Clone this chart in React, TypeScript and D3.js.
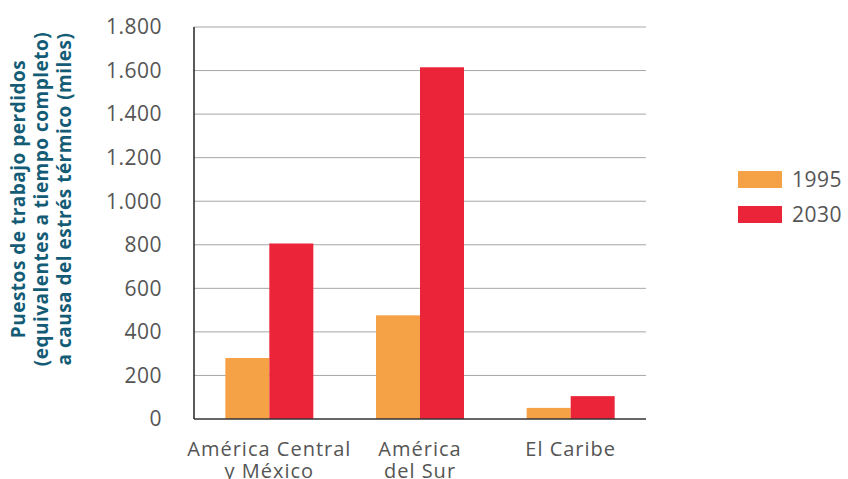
import React from "react";
import * as d3 from "d3";

const regions = [["América Central", "y México"], ["América", "del Sur"], ["El Caribe"]];
const series = ["1995", "2030"];
const values1995 = [280, 476, 51];
const values2030 = [806, 1615, 105];
const yTicks = [0, 200, 400, 600, 800, 1000, 1200, 1400, 1600, 1800];
const yTitle = [
  "Puestos de trabajo perdidos",
  "(equivalentes a tiempo completo)",
  "a causa del estrés térmico (miles)",
];

const colors = ["#F4A245", "#EC2439"];
const font = "'Open Sans', sans-serif";

const App: React.FC = () => {
  const W = 848, H = 479;
  const left = 194, right = 646, top = 27, bottom = 419;

  const keys = regions.map(r => r.join(" "));
  const x0 = d3.scaleBand().domain(keys).range([left, right]).paddingInner(0.416).paddingOuter(0.208);
  const x1 = d3.scaleBand().domain(series).range([0, x0.bandwidth()]);
  const y = d3.scaleLinear().domain([0, 1800]).range([bottom, top]);
  const fmt = (v: number) => d3.format(",")(v).replace(/,/g, ".");

  const data = keys.map((k, i) => ({ key: k, vals: [values1995[i], values2030[i]] }));

  return (
    <svg width={W} height={H} style={{ position: "absolute", left: 0, top: 0, background: "#fff" }}>
      {/* grid */}
      {yTicks.filter(t => t > 0).map(t => (
        <line key={t} x1={left} x2={right} y1={y(t)} y2={y(t)} stroke="#a6a6a6" strokeWidth={1} />
      ))}
      {/* tick labels */}
      {yTicks.map(t => (
        <text key={t} x={162} y={y(t)} dy="0.35em" textAnchor="end" fontFamily={font} fontSize={21} letterSpacing={0.5} fill="#555">
          {fmt(t)}
        </text>
      ))}
      {/* bars */}
      {data.map(d => (
        <g key={d.key} transform={`translate(${x0(d.key)},0)`}>
          {d.vals.map((v, j) => (
            <rect key={j} x={x1(series[j])} y={y(v)} width={x1.bandwidth()} height={y(0) - y(v)} fill={colors[j]} />
          ))}
        </g>
      ))}
      {/* axes */}
      <line x1={left} x2={left} y1={top} y2={bottom} stroke="#222" strokeWidth={1.5} />
      <line x1={left} x2={right} y1={bottom} y2={bottom} stroke="#333" strokeWidth={1.5} />
      {/* x labels */}
      {regions.map((r, i) => (
        <text key={i} x={x0(keys[i])! + x0.bandwidth() / 2} y={456} textAnchor="middle" fontFamily={font} fontSize={20} letterSpacing={1} fill="#555">
          {r.map((line, k) => (
            <tspan key={k} x={x0(keys[i])! + x0.bandwidth() / 2} dy={k === 0 ? 0 : 22}>{line}</tspan>
          ))}
        </text>
      ))}
      {/* y title */}
      <g transform="translate(0,199) rotate(-90)">
        {yTitle.map((t, i) => (
          <text key={i} x={0} y={25 + i * 23} textAnchor="middle" fontFamily={font} fontWeight={700} fontSize={19} letterSpacing={0.5} fill="#145c76">
            {t}
          </text>
        ))}
      </g>
      {/* legend */}
      {series.map((s, i) => (
        <g key={s} transform={`translate(738,${171 + i * 35})`}>
          <rect width={44} height={17} fill={colors[i]} />
          <text x={54} y={8.5} dy="0.35em" fontFamily={font} fontSize={21} letterSpacing={0.5} fill="#555">{s}</text>
        </g>
      ))}
    </svg>
  );
};

export default App;
